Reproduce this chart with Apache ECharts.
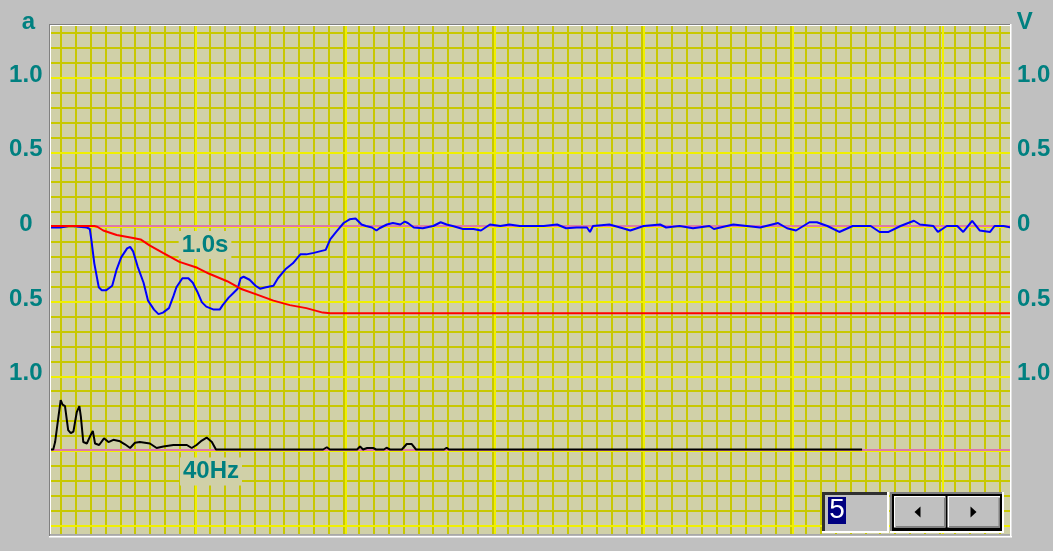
<!DOCTYPE html>
<html><head><meta charset="utf-8">
<script src="https://cdn.jsdelivr.net/npm/echarts@6/dist/echarts.min.js"></script>
<style>html,body{margin:0;padding:0;background:#c0c0c0;}#c{width:1053px;height:551px;}</style>
</head><body><div id="c"></div>
<script>
// ---------------- data ----------------
const leftUnit = 'a';
const rightUnit = 'V';
const leftTickLabels = ['1.0', '0.5', '0', '0.5', '1.0'];
const rightTickLabels = ['1.0', '0.5', '0', '0.5', '1.0'];
const timeScaleLabel = '1.0s';
const freqScaleLabel = '40Hz';
const spinValue = '5';

// blue trace: [time (s), a]
const accelTrace = [
  [0.00,-0.01],[0.06,-0.01],[0.13,0.00],[0.24,-0.01],[0.26,-0.02],[0.27,-0.09],[0.29,-0.25],[0.32,-0.41],
  [0.34,-0.43],[0.37,-0.43],[0.41,-0.40],[0.44,-0.29],[0.47,-0.21],[0.51,-0.15],[0.53,-0.14],[0.55,-0.17],
  [0.58,-0.27],[0.62,-0.38],[0.65,-0.50],[0.69,-0.56],[0.72,-0.59],[0.75,-0.58],[0.79,-0.55],[0.82,-0.47],
  [0.84,-0.41],[0.88,-0.35],[0.92,-0.35],[0.95,-0.38],[0.98,-0.44],[1.01,-0.51],[1.04,-0.54],[1.09,-0.56],
  [1.13,-0.56],[1.15,-0.53],[1.19,-0.48],[1.22,-0.45],[1.25,-0.42],[1.27,-0.35],[1.29,-0.34],[1.33,-0.36],
  [1.37,-0.40],[1.40,-0.42],[1.44,-0.41],[1.49,-0.40],[1.52,-0.35],[1.57,-0.29],[1.62,-0.25],[1.67,-0.19],
  [1.71,-0.19],[1.76,-0.18],[1.80,-0.17],[1.84,-0.16],[1.87,-0.09],[1.91,-0.04],[1.96,0.02],[2.00,0.045],
  [2.04,0.05],[2.06,0.03],[2.08,0.01],[2.11,0.00],[2.15,-0.01],[2.18,-0.03],[2.20,-0.015],[2.25,0.01],
  [2.29,0.02],[2.34,0.01],[2.37,0.03],[2.39,0.02],[2.43,-0.01],[2.49,-0.015],[2.56,0.00],[2.61,0.025],
  [2.65,0.01],[2.69,0.00],[2.76,-0.02],[2.83,-0.02],[2.88,-0.03],[2.94,0.01],[3.01,0.00],[3.07,0.01],
  [3.14,0.00],[3.23,0.00],[3.30,0.00],[3.39,0.01],[3.45,-0.015],[3.52,-0.01],[3.59,-0.01],[3.61,-0.04],
  [3.63,0.00],[3.74,0.01],[3.83,-0.015],[3.88,-0.03],[3.97,0.00],[4.08,0.01],[4.12,-0.01],[4.21,0.00],
  [4.30,-0.015],[4.41,0.00],[4.44,-0.02],[4.57,0.01],[4.66,0.00],[4.75,-0.01],[4.87,0.02],[4.93,-0.015],
  [4.99,-0.03],[5.08,0.025],[5.13,0.025],[5.20,0.00],[5.28,-0.04],[5.37,0.00],[5.49,0.00],[5.55,-0.04],
  [5.61,-0.04],[5.69,0.00],[5.78,0.035],[5.82,0.01],[5.91,0.00],[5.94,-0.04],[6.00,0.00],[6.07,0.00],
  [6.11,-0.04],[6.17,0.035],[6.22,-0.03],[6.29,-0.04],[6.32,0.00],[6.38,0.00],[6.43,-0.01]
];

// red trace: [time (s), V]
const velocityTrace = [
  [0.00,0.00],[0.29,0.00],[0.31,-0.005],[0.35,-0.03],[0.44,-0.06],[0.55,-0.08],[0.60,-0.09],[0.66,-0.13],
  [0.75,-0.18],[0.86,-0.24],[0.98,-0.28],[1.06,-0.32],[1.18,-0.37],[1.27,-0.42],[1.38,-0.46],[1.49,-0.50],
  [1.60,-0.53],[1.71,-0.55],[1.82,-0.58],[1.87,-0.585],[6.43,-0.585]
];

// black spectrum: [frequency (Hz), amplitude]
const spectrumTrace = [
  [0,0],[0.6,0],[1.1,0.05],[2.0,0.22],[2.6,0.33],[3.1,0.30],[3.75,0.29],[4.6,0.13],[5.3,0.11],[6.0,0.12],
  [6.9,0.25],[7.6,0.29],[8.0,0.22],[8.65,0.05],[9.6,0.04],[10.4,0.085],[11.2,0.125],[11.8,0.04],[12.9,0.03],
  [14.2,0.075],[15.4,0.05],[16.7,0.065],[18.5,0.055],[19.8,0.035],[21.2,0.01],[22.5,0.045],[23.8,0.05],
  [26.5,0.04],[28.3,0.01],[30.1,0.02],[32.8,0.03],[36.4,0.03],[37.7,0.01],[39.0,0.03],[40.4,0.06],[41.7,0.08],
  [43.1,0.05],[44.2,0],[72.9,0],[73.9,0.015],[74.7,0],[82.0,0],[82.8,0.02],[83.6,0],[84.7,0.01],[86.3,0.01],
  [87.1,0],[89.2,0],[89.9,0.012],[90.8,0],[94.0,0],[95.3,0.037],[96.6,0.037],[97.8,0],[105.3,0],[106.0,0.012],
  [106.6,0],[217.3,0]
];

// ---------------- layout / style ----------------
const BG = '#c0c0c0', PLOT_BG = '#d0d0a8', MINOR = '#c8c800', MAJOR = '#f0f000';
const PINK = '#dc78aa', TEAL = '#008080';
const FONT = '"Liberation Sans", Arial, sans-serif';
const CX = 14.9, CY = 14.93;
const VLINE0 = 60.7, HLINE_ZERO = 227;
const MAJOR_X0 = 196, MAJOR_DX = 149.3, MAJOR_Y0 = 77.7, MAJOR_DY = 74.65;
const PLOT = {left: 51, top: 26, right: 1010, bottom: 534};
const PX_PER_UNIT = 149.3, DATA_ZERO_Y = 226, SPEC_ZERO_Y = 449.5, HZ_PER_DIV = 40;
const plotW = PLOT.right - PLOT.left, plotH = PLOT.bottom - PLOT.top;

const gMinor = {left: VLINE0 - CX, top: HLINE_ZERO - 14 * CY, width: 65 * CX, height: 35 * CY};
const noOB = {outerBoundsMode: 'none', containLabel: false};
const grids = [
  Object.assign({}, gMinor, noOB),
  Object.assign({left: MAJOR_X0 - MAJOR_DX, top: gMinor.top, width: 6 * MAJOR_DX, height: gMinor.height}, noOB),
  Object.assign({left: gMinor.left, top: MAJOR_Y0 - MAJOR_DY, width: gMinor.width, height: 7 * MAJOR_DY}, noOB),
  Object.assign({left: PLOT.left, top: PLOT.top, width: plotW, height: plotH, show: true,
    backgroundColor: PLOT_BG, borderWidth: 0, z: 0}, noOB),
  Object.assign({left: PLOT.left, top: PLOT.top, width: plotW, height: plotH}, noOB),
  Object.assign({left: PLOT.left, top: MAJOR_Y0 - 2.7, width: plotW, height: 4 * MAJOR_DY}, noOB)
];

function gridAxis(gi, max, color, z) {
  return {type: 'value', gridIndex: gi, min: 0, max: max, interval: 1, z: z,
    axisLine: {show: false}, axisTick: {show: false}, axisLabel: {show: false},
    splitLine: {show: true, lineStyle: {color: color, width: 2}}};
}
function hiddenAxis(gi, min, max, extra) {
  return Object.assign({type: 'value', gridIndex: gi, min: min, max: max, show: false,
    splitLine: {show: false}}, extra || {});
}
function zeroLineAxis(gi, max) {
  return {type: 'value', gridIndex: gi, min: 0, max: max, z: 3,
    axisLine: {show: true, onZero: true, onZeroAxisIndex: gi === 3 ? 3 : 4, lineStyle: {color: PINK, width: 2}},
    axisTick: {show: false}, axisLabel: {show: false}, splitLine: {show: false}};
}
const tickLabelStyle = {color: TEAL, fontWeight: 'bold', fontSize: 24, fontFamily: FONT, interval: 0};

const option = {
  backgroundColor: BG,
  animation: false,
  grid: grids,
  xAxis: [
    gridAxis(0, 65, MINOR, 1),
    gridAxis(1, 6, MAJOR, 2),
    hiddenAxis(2, 0, 1),
    zeroLineAxis(3, plotW / PX_PER_UNIT),
    zeroLineAxis(4, plotW / PX_PER_UNIT * HZ_PER_DIV),
    hiddenAxis(5, 0, 1)
  ],
  yAxis: [
    gridAxis(0, 35, MINOR, 1),
    hiddenAxis(1, 0, 1),
    gridAxis(2, 7, MAJOR, 2),
    hiddenAxis(3, -(PLOT.bottom - DATA_ZERO_Y) / PX_PER_UNIT, (DATA_ZERO_Y - PLOT.top) / PX_PER_UNIT),
    hiddenAxis(4, -(PLOT.bottom - SPEC_ZERO_Y) / PX_PER_UNIT, (SPEC_ZERO_Y - PLOT.top) / PX_PER_UNIT),
    {type: 'category', gridIndex: 5, data: leftTickLabels, inverse: true, boundaryGap: false,
      position: 'left', z: 1, axisLine: {show: false}, axisTick: {show: false}, splitLine: {show: false},
      axisLabel: Object.assign({align: 'center', margin: 25.2}, tickLabelStyle)},
    {type: 'category', gridIndex: 5, data: rightTickLabels, inverse: true, boundaryGap: false,
      position: 'right', z: 1, axisLine: {show: false}, axisTick: {show: false}, splitLine: {show: false},
      axisLabel: Object.assign({align: 'left', margin: 7}, tickLabelStyle)}
  ],
  series: [
    {type: 'line', xAxisIndex: 3, yAxisIndex: 3, data: accelTrace, showSymbol: false, z: 5,
      lineStyle: {color: '#0000ff', width: 2}},
    {type: 'line', xAxisIndex: 3, yAxisIndex: 3, data: velocityTrace, showSymbol: false, z: 6,
      lineStyle: {color: '#ff0000', width: 2}},
    {type: 'line', xAxisIndex: 4, yAxisIndex: 4, data: spectrumTrace, showSymbol: false, z: 5,
      lineStyle: {color: '#000000', width: 2}}
  ],
  graphic: {elements: []}
};

const G = option.graphic.elements;
function rect(x, y, w, h, fill, z) { G.push({type: 'rect', z: z, shape: {x: x, y: y, width: w, height: h}, style: {fill: fill}}); }
function text(str, x, y, align, z, extra) {
  G.push({type: 'text', z: z, style: Object.assign({text: str, x: x, y: y, align: align, verticalAlign: 'middle',
    font: 'bold 24px ' + FONT, fill: TEAL}, extra || {})});
}
// scale annotations inside the plot
text(timeScaleLabel, 205, 245, 'center', 4, {backgroundColor: PLOT_BG, padding: [2, 3]});
text(freqScaleLabel, 211, 471.6, 'center', 4, {backgroundColor: PLOT_BG, padding: [2, 3]});
// margins around the plot (hide overflow of grid lines)
rect(44, 0, 972, PLOT.top, BG, 10);
rect(44, PLOT.bottom, 972, 551 - PLOT.bottom, BG, 10);
rect(44, 0, PLOT.left - 44, 551, BG, 10);
rect(PLOT.right, 0, 1016 - PLOT.right, 551, BG, 10);
// sunken frame
rect(49, 24, 962, 1, '#808080', 11);
rect(49, 24, 1, 513, '#808080', 11);
rect(50, 25, 960, 1, '#ffffff', 11);
rect(50, 25, 1, 509, '#ffffff', 11);
rect(50, 534, 960, 1.5, '#a8a8a8', 11);
rect(49, 536, 963, 1.5, '#ffffff', 11);
rect(1010, 24, 1.5, 513, '#ffffff', 11);
// unit names
text(leftUnit, 28.3, 22, 'center', 11);
text(rightUnit, 1016.7, 22, 'left', 11);
// value box
rect(822, 492, 67, 41, '#ffffff', 12);
rect(822, 492, 65, 39, '#303030', 12);
rect(825, 495, 62, 36, '#c0c0c0', 12);
rect(828, 497, 18, 27, '#000080', 13);
G.push({type: 'text', z: 14, style: {text: spinValue, x: 837, y: 510.5, align: 'center', verticalAlign: 'middle',
  font: '28px ' + FONT, fill: '#ffffff'}});
// spinner buttons
rect(890, 492, 114, 41, '#ffffff', 12);
rect(890, 492, 112, 39, '#808080', 12);
rect(892, 494, 110, 37, '#000000', 12);
function button(x, y, w, h) {
  rect(x, y, w, h, '#ffffff', 13);
  rect(x + 1.5, y + 1.5, w - 1.5, h - 1.5, '#808080', 13);
  rect(x + 1.5, y + 1.5, w - 3, h - 3, '#c0c0c0', 13);
}
button(894, 496, 51.5, 31.5);
button(947.5, 496, 52.5, 31.5);
G.push({type: 'polygon', z: 14, shape: {points: [[914.5, 512], [920.5, 506.5], [920.5, 517.5]]}, style: {fill: '#000000'}});
G.push({type: 'polygon', z: 14, shape: {points: [[976.5, 512], [970.5, 506.5], [970.5, 517.5]]}, style: {fill: '#000000'}});

const chart = echarts.init(document.getElementById('c'), null, {renderer: 'canvas'});
chart.setOption(option);
</script>
</body></html>
